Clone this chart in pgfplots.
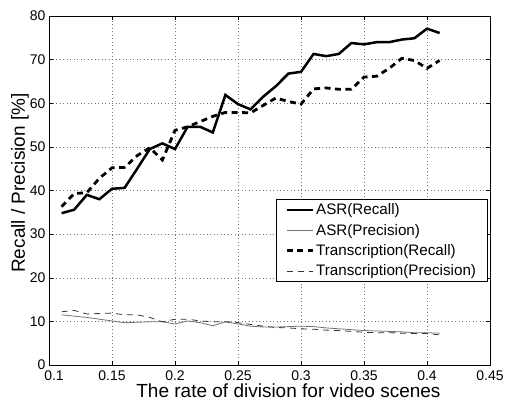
\documentclass[border=0pt]{standalone}
\usepackage{fontspec}
\setmainfont{Liberation Sans}
\usepackage{pgfplots}
\usepackage{pgfplotstable}
\pgfplotsset{compat=1.18}
\pgfplotstableread{
x asrr trr asrp trp
0.11 34.8 36.3 11.5 12.2
0.12 35.6 39.3 11.2 12.5
0.13 39.0 39.5 10.9 11.7
0.14 38.0 42.8 10.5 11.8
0.15 40.4 45.2 10.1 11.9
0.16 40.6 45.3 9.7 11.5
0.17 45.0 48.0 9.8 11.5
0.18 49.5 49.8 9.9 10.9
0.19 50.8 47.0 9.9 9.9
0.20 49.5 53.8 9.4 10.5
0.21 54.6 54.6 10.1 10.5
0.22 54.6 55.8 9.7 10.1
0.23 53.3 57.0 9.0 9.9
0.24 61.9 57.9 9.9 9.9
0.25 59.8 57.9 9.4 9.7
0.26 58.6 57.8 8.9 9.3
0.27 61.5 59.5 8.7 8.9
0.28 63.9 61.2 8.7 8.6
0.29 66.8 60.4 8.8 8.5
0.30 67.2 59.8 8.9 8.3
0.31 71.3 63.3 8.8 8.2
0.32 70.8 63.5 8.5 8.0
0.33 71.3 63.2 8.3 7.9
0.34 73.8 63.2 8.1 7.7
0.35 73.5 66.0 7.9 7.5
0.36 74.0 66.2 7.8 7.4
0.37 74.0 68.0 7.7 7.4
0.38 74.6 70.3 7.6 7.3
0.39 74.9 69.8 7.4 7.2
0.40 77.1 68.0 7.4 7.2
0.41 76.1 69.8 7.3 6.9
}\data
\begin{document}
\begin{tikzpicture}
\useasboundingbox (-49bp,-35bp) rectangle (456bp,365bp);
\begin{axis}[
  at={(0,0)}, anchor=south west,
  scale only axis,
  width=441bp, height=349bp,
  xmin=0.1, xmax=0.45, ymin=0, ymax=80,
  xtick={0.1,0.15,...,0.451}, ytick={0,10,...,80},
  xticklabels={\hspace{10bp}0.1,0.15,0.2,0.25,0.3,0.35,0.4,0.45},
  tick align=inside, major tick length=4bp,
  tick style={black, line width=0.5pt},
  axis line style={black, line width=0.7pt},
  grid=major,
  major grid style={black!55, line width=0.5pt, dash pattern=on 1bp off 2.5bp},
  /pgf/number format/assume math mode=true,
  tick label style={font=\fontsize{14bp}{16bp}\selectfont},
  xticklabel style={yshift=-2bp},
  label style={font=\fontsize{19bp}{21bp}\selectfont},
  xlabel={The rate of division for video scenes},
  ylabel={Recall / Precision [\%]},
  xlabel style={at={(axis description cs:0.543,-0.092)}, anchor=base},
  ylabel style={at={(axis description cs:-0.0658,0.5215)}, anchor=center},
  legend style={at={(0.5147,0.4756)}, anchor=north west,
    draw=black, line width=0.7pt, fill=white,
    font=\fontsize{15.2bp}{17bp}\selectfont,
    inner xsep=9bp, inner ysep=2.5bp, row sep=3.8bp},
  legend cell align=left,
  legend image code/.code={\draw[#1] (0bp,0bp) -- (26bp,0bp);},
]
\addplot[black, line width=2.5bp] table[x=x, y=asrr] {\data};
\addlegendentry{ASR(Recall)}
\addplot[black!55, line width=0.8bp] table[x=x, y=asrp] {\data};
\addlegendentry{ASR(Precision)}
\addplot[black, line width=2.8bp, dash pattern=on 6bp off 4.5bp] table[x=x, y=trr] {\data};
\addlegendentry{Transcription(Recall)}
\addplot[black!80, line width=0.8bp, dash pattern=on 6bp off 5bp] table[x=x, y=trp] {\data};
\addlegendentry{Transcription(Precision)\hspace{5bp}}
\end{axis}
\end{tikzpicture}
\end{document}
